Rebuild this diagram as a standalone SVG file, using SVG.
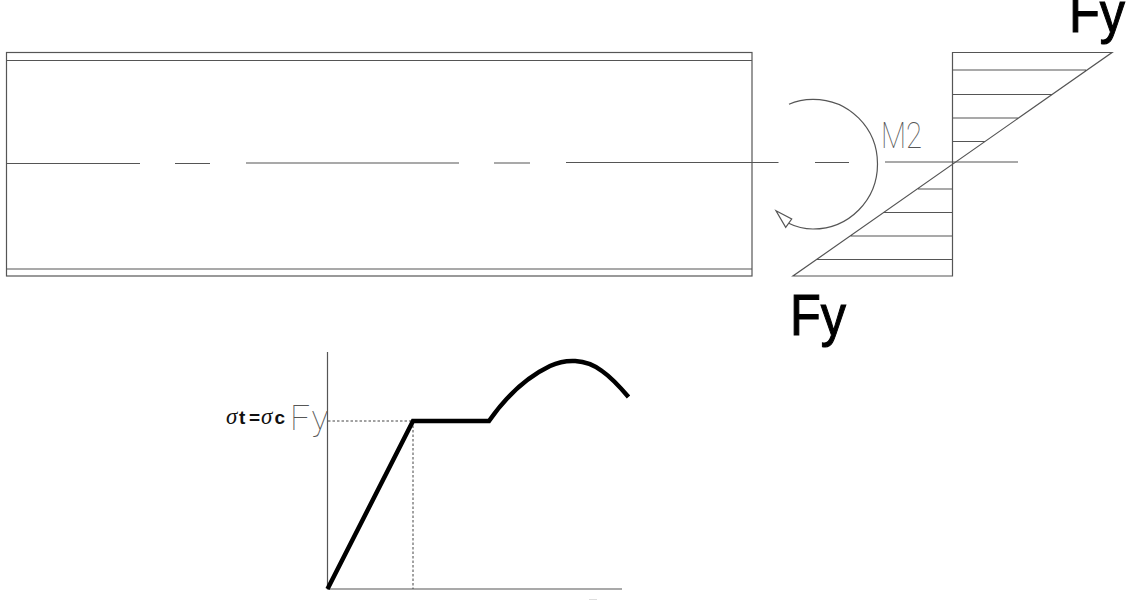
<svg xmlns="http://www.w3.org/2000/svg" width="1140" height="600" viewBox="0 0 1140 600">
<style>
.l{fill:none;stroke:#555;stroke-width:1.2}
.c{fill:none;stroke:#000;stroke-width:4.5;stroke-linejoin:miter}
.d{fill:none;stroke:#444;stroke-width:1;stroke-dasharray:2.5 2}
.big{font-family:"Liberation Sans",Arial,sans-serif;font-size:58px;fill:#000;stroke:#000;stroke-width:1.1}
.thin{font-family:"Roboto","Liberation Sans",sans-serif;font-weight:100;fill:#555;opacity:.99}
.sm{font-family:"Liberation Sans",Arial,sans-serif;font-size:19px;font-weight:bold;fill:#111}
.sg{font-family:"Liberation Serif",serif;font-size:23px;font-style:italic;font-weight:normal;fill:#111}
</style>
<rect width="1140" height="600" fill="#fff"/>
<g id="beam">
<rect class="l" x="6.500" y="52.500" width="745.500" height="223.500"/>
<path class="l" d="M6.500 60.500H752M6.500 269H752"/>
</g>
<g id="centerline">
<path class="l" d="M6.500 163.500H140M175 163.500H210M246 163H459M494 163H530M566 162.500H778.500M815 162.500H849M885 162H1018"/>
</g>
<g id="stress">
<path class="l" d="M952.500 52.500H1112L793 276H952.500ZM952.500 70H1086M952.500 94.500H1052M952.500 118H1018M952.500 141.500H985M952.500 189H918M952.500 212.500H883M952.500 236H850M952.500 259.500H816"/>
</g>
<g id="moment">
<path class="l" d="M789 104.300C797 100.500 805 99.300 813 99.300C849 99.300 877.500 128 877.500 164C877.500 200 849 229 813 229C804 229 796 227 788.700 223.300"/>
<path class="l" d="M776 210.700L791.700 219L785.700 227.300Z" fill="#fff"/>
<text class="thin" x="881" y="148" font-size="36" textLength="41" lengthAdjust="spacingAndGlyphs">M2</text>
</g>
<g id="labels">
<text class="big" x="1069" y="32" textLength="56" lengthAdjust="spacingAndGlyphs">Fy</text>
<text class="big" x="790" y="335" textLength="56" lengthAdjust="spacingAndGlyphs">Fy</text>
</g>
<g id="chart">
<path class="l" d="M327.500 352V589H622"/>
<path class="d" d="M328 421H413M413 421V589"/>
<path class="c" d="M327.500 589L413 421H489C505 398 525 378 550 366C565 359 585 358 602 371C612 378 620 387 628.500 397"/>
<path d="M589 599.500H597" stroke="#ddd" stroke-width="1" fill="none"/>
<text id="sigma-label" class="sm" y="424"><tspan class="sg" x="226">σ</tspan><tspan x="239">t</tspan><tspan x="249">=</tspan><tspan class="sg" x="261">σ</tspan><tspan x="274.500">c</tspan></text>
<text class="thin" x="290" y="430" font-size="35" letter-spacing="2">Fy</text>
</g>
</svg>
